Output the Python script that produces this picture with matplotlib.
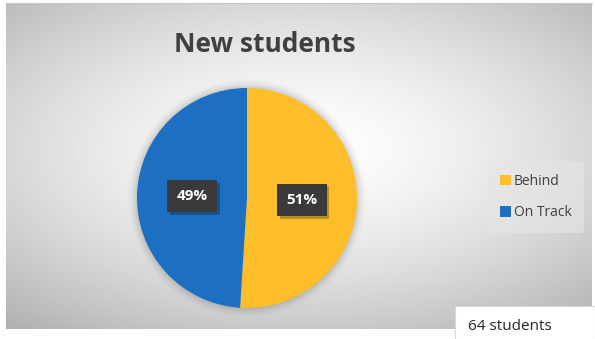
import numpy as np
import matplotlib.pyplot as plt
import matplotlib.patheffects as pe
from matplotlib.patches import Rectangle

plt.rcParams['font.family'] = ['Open Sans', 'DejaVu Sans']

title = 'New students'
categories = ['Behind', 'On Track']
shares = [51, 49]
colors = ['#FDBE2A', '#1D6FC1']
total_note = '64 students'

W, H = 595, 339
fig = plt.figure(figsize=(W / 100, H / 100), dpi=100)
fig.patch.set_facecolor('white')

# chart area with a radial grey gradient
bg = fig.add_axes([6 / W, 1 - 329 / H, 586 / W, 326 / H])
yy, xx = np.mgrid[-1:1:200j, -1:1:300j]
r = np.sqrt((xx * 0.95) ** 2 + ((yy + 0.1) * 1.05) ** 2)
shade = np.clip(1.0 - 0.17 * r ** 1.5, 0, 1)
bg.imshow(shade, cmap='gray', vmin=0, vmax=1, aspect='auto', extent=[0, 1, 0, 1])
bg.set_xlim(0, 1)
bg.set_ylim(0, 1)
bg.set_xticks([])
bg.set_yticks([])
for s in bg.spines.values():
    s.set_visible(False)
bg.spines['top'].set_visible(True)
bg.spines['top'].set_color('#c8c8c8')

fig.text(265 / W, 1 - 45 / H, title, ha='center', va='center',
         fontsize=19, fontweight='bold', color='#404040')

# soft glow behind the pie
cx, cy, rad = 247, 198, 110
glow = fig.add_axes([(cx - rad - 12) / W, 1 - (cy + rad + 12) / H,
                     2 * (rad + 12) / W, 2 * (rad + 12) / H])
gy, gx = np.mgrid[-1:1:200j, -1:1:200j]
gd = np.sqrt(gx ** 2 + gy ** 2)
ga = np.clip((1 - gd) / (12 / (rad + 12)), 0, 1) ** 2 * 0.18
rgba = np.zeros((200, 200, 4))
rgba[..., 3] = ga
glow.imshow(rgba, extent=[-1, 1, -1, 1])
glow.axis('off')

# pie
ax = fig.add_axes([(cx - rad) / W, 1 - (cy + rad) / H, 2 * rad / W, 2 * rad / H])
ax.set_facecolor('none')
wedges, _ = ax.pie(shares, colors=colors, startangle=90, counterclock=False,
                   wedgeprops=dict(linewidth=0))
ax.set_xlim(-1, 1)
ax.set_ylim(-1, 1)
ax.set_aspect('auto')

for w, v in zip(wedges, shares):
    ang = np.deg2rad((w.theta1 + w.theta2) / 2)
    x, y = 0.5 * np.cos(ang), 0.5 * np.sin(ang)
    t = ax.text(x, y, f'{v}%', ha='center', va='center', fontsize=11,
                fontweight='bold', color='white',
                bbox=dict(boxstyle='square,pad=0.6', fc='#3a3a3a', ec='none'))
    t.get_bbox_patch().set_path_effects(
        [pe.SimplePatchShadow(offset=(2, -2), shadow_rgbFace='black', alpha=0.25), pe.Normal()])

# legend
leg = fig.legend(wedges, categories, loc='center', bbox_to_anchor=(536 / W, 1 - 197 / H),
                 frameon=True, fontsize=10, handlelength=0.8, handleheight=0.8,
                 handletextpad=0.2, labelspacing=1.2, borderpad=0.9)
leg.get_frame().set_facecolor('#e6e6e6')
leg.get_frame().set_edgecolor('none')
leg.get_frame().set_alpha(0.6)
for t in leg.get_texts():
    t.set_color('#404040')

# note box in the corner
fig.patches.append(Rectangle((455 / W, 0), 140 / W, 33 / H, transform=fig.transFigure,
                             fc='white', ec='#d9d9d9', lw=0.8))
fig.text(468 / W, 1 - 326 / H, total_note, ha='left', va='center',
         fontsize=11, color='#262626')

fig.savefig('out.png', dpi=100)
